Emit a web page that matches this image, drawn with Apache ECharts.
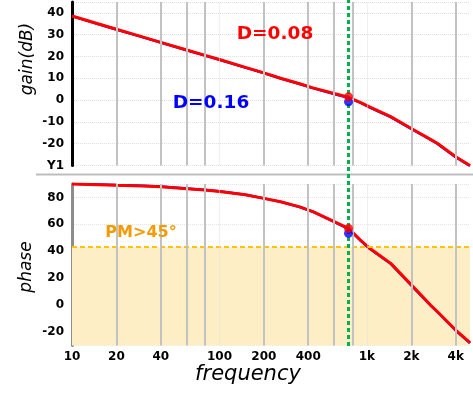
<!DOCTYPE html>
<html><head><meta charset="utf-8">
<script src="https://cdn.jsdelivr.net/npm/echarts@6/dist/echarts.min.js"></script>
<style>html,body{margin:0;padding:0;background:#fff;}#c{width:473px;height:398px;}</style>
</head><body><div id="c"></div>
<script>
// ---- data ----
const freqs      = [10, 15, 20, 30, 40, 60, 80, 100, 150, 200, 260, 350, 430, 600, 750, 900, 1050, 1450, 2000, 2700, 3000, 4000, 5000];
const gainD008   = [38.6, 35, 32.5, 29, 26.5, 23, 20.5, 18.6, 15, 12.5, 10, 7.5, 5.6, 3, 1.3, -1, -3.2, -7.6, -13, -18, -19.8, -26, -30];
const gainD016   = [38.5, 34.9, 32.4, 28.9, 26.4, 22.9, 20.4, 18.5, 14.9, 12.4, 9.9, 7.4, 5.5, 2.8, 1.1, -1.2, -3.4, -7.8, -13.2, -18.2, -20, -26.2, -30.2];
const phaseD008  = [90, 89.5, 89, 88.5, 88, 86.5, 85.5, 84.5, 82, 79.3, 76.8, 73, 69.5, 62, 57, 48.5, 42, 31, 15, 0, -4.8, -18.6, -28];
const phaseD016  = [90.2, 89.7, 89.2, 88.7, 88.2, 86.7, 85.6, 84.6, 82, 79.3, 76.7, 72.9, 69.4, 61.8, 56.7, 48.2, 41.7, 30.7, 14.7, -0.3, -5.1, -18.9, -28.3];
const crossFreq  = 750;
const markerGain  = [1.5, -0.8];   // D=0.08, D=0.16
const markerPhase = [57, 53.3];    // D=0.08, D=0.16
const pmLimit    = 43;
const xTickValues    = [10, 20, 40, 100, 200, 400, 1000, 2000, 4000];
const minorGridFreqs = [20, 40, 60, 80, 200, 400, 600, 800, 2000, 4000];
const decadeGridFreqs = [100, 1000];
const seriesNames = ['D=0.08', 'D=0.16'];

const F = "'DejaVu Sans', Verdana, sans-serif";
const RED = '#ff0000', BLUE = '#0000ff';
const pairs = (ys) => freqs.map((f, i) => [f, ys[i]]);

function vGrid(xi, yi) {
  return {
    type: 'line', xAxisIndex: xi, yAxisIndex: yi, data: [], z: 1, silent: true,
    markLine: {
      silent: true, symbol: ['none', 'none'], label: {show: false}, animation: false,
      data: minorGridFreqs.map(f => ({xAxis: f, lineStyle: {color: '#c2c2c2', width: 2, type: 'solid'}}))
        .concat(decadeGridFreqs.map(f => ({xAxis: f, lineStyle: {color: '#e2e2e2', width: 1, type: 'dotted'}})))
    }
  };
}
function curve(name, xi, yi, ys, color, z, w) {
  return {name, type: 'line', xAxisIndex: xi, yAxisIndex: yi, data: pairs(ys), showSymbol: false,
    symbol: 'none', z, lineStyle: {color, width: w}, itemStyle: {color}};
}
function dot(xi, yi, v, color, z) {
  return {type: 'scatter', xAxisIndex: xi, yAxisIndex: yi, data: [[crossFreq, v]], symbolSize: 9, z,
    itemStyle: {color}};
}
const logX = (gi, extra) => Object.assign({type: 'log', logBase: 10, gridIndex: gi, min: 10, max: 5000,
  axisLine: {show: false}, axisTick: {show: false}, axisLabel: {show: false}, splitLine: {show: false}}, extra || {});
const lbl = {color: '#000', fontFamily: F, fontWeight: 'bold', fontSize: 12};
const txt = (x, y, text, fill, size, extra, rot) => ({type: 'text', x, y, z: 100, rotation: rot || 0,
  style: Object.assign({text, fill, fontFamily: F, fontSize: size,
    align: 'center', verticalAlign: 'middle', textAlign: 'center', textVerticalAlign: 'middle'}, extra)});

const option = {
  animation: false,
  grid: [
    {left: 72, right: 3, top: 2, bottom: 232.5},
    {left: 72, right: 3, top: 184, bottom: 52.6},
    {left: 72, right: 3, top: 0, bottom: 52}
  ],
  xAxis: [
    logX(0),
    logX(1, {axisLabel: Object.assign({show: true, margin: 5, customValues: xTickValues,
      formatter: v => v >= 1000 ? (v / 1000) + 'k' : String(v)}, lbl)}),
    logX(2, {show: false})
  ],
  yAxis: [
    {type: 'value', gridIndex: 0, min: -30, max: 45, interval: 10,
      axisLine: {show: true, lineStyle: {color: '#000', width: 3}}, axisTick: {show: false},
      axisLabel: Object.assign({margin: 8, formatter: v => v === -30 ? 'Y1' : (v % 10 === 0 ? String(v) : '')}, lbl),
      splitLine: {show: true, lineStyle: {color: '#dedede', type: 'dotted', width: 1}}},
    {type: 'value', gridIndex: 1, min: -30, max: 90, splitNumber: 6,
      axisLine: {show: true, lineStyle: {color: '#8c8c8c', width: 3}}, axisTick: {show: false},
      axisLabel: Object.assign({margin: 8, formatter: v => v % 20 === 0 ? String(v) : ''}, lbl),
      splitLine: {show: true, lineStyle: {color: '#e4e4e4', type: 'dotted', width: 1}}},
    {type: 'value', gridIndex: 2, min: 0, max: 1, show: false}
  ],
  series: [
    {type: 'line', xAxisIndex: 1, yAxisIndex: 1, data: [], z: -1, silent: true,
      markArea: {silent: true, itemStyle: {color: '#fdeec6'}, data: [[{yAxis: -30}, {yAxis: pmLimit}]]}},
    {type: 'line', xAxisIndex: 1, yAxisIndex: 1, data: [], z: 2, silent: true,
      markLine: {silent: true, symbol: ['none', 'none'], label: {show: false},
        lineStyle: {color: '#ffc20e', width: 2, type: [5, 3]}, data: [{yAxis: pmLimit}]}},
    vGrid(0, 0), vGrid(1, 1),
    curve(seriesNames[1], 0, 0, gainD016, BLUE, 3, 2.5),
    curve(seriesNames[0], 0, 0, gainD008, RED, 4, 3),
    curve(seriesNames[1], 1, 1, phaseD016, BLUE, 3, 2.5),
    curve(seriesNames[0], 1, 1, phaseD008, RED, 4, 3),
    {type: 'line', xAxisIndex: 2, yAxisIndex: 2, data: [], z: 5, silent: true,
      markLine: {silent: true, symbol: ['none', 'none'], label: {show: false},
        lineStyle: {color: '#00b04f', width: 3, type: [4, 3]}, data: [{xAxis: crossFreq}]}},
    dot(0, 0, markerGain[1], BLUE, 6), dot(0, 0, markerGain[0], RED, 7),
    dot(1, 1, markerPhase[1], BLUE, 6), dot(1, 1, markerPhase[0], RED, 7)
  ],
  graphic: [
    {type: 'rect', shape: {x: 36, y: 173.5, width: 437, height: 2}, style: {fill: '#bdbdbd'}, silent: true},
    txt(275, 34, seriesNames[0], RED, 18.5, {fontWeight: 'bold'}),
    txt(211, 103, seriesNames[1], BLUE, 18.5, {fontWeight: 'bold'}),
    txt(141, 233, 'PM>45°', '#f59a00', 16, {fontWeight: 'bold'}),
    txt(28, 59, 'gain(dB)', '#000', 17, {fontStyle: 'italic'}, Math.PI / 2),
    txt(27, 267, 'phase', '#000', 17, {fontStyle: 'italic'}, Math.PI / 2),
    txt(248, 375, 'frequency', '#000', 21, {fontStyle: 'italic'})
  ]
};
const chart = echarts.init(document.getElementById('c'), null, {renderer: 'canvas'});
chart.setOption(option);
</script></body></html>
